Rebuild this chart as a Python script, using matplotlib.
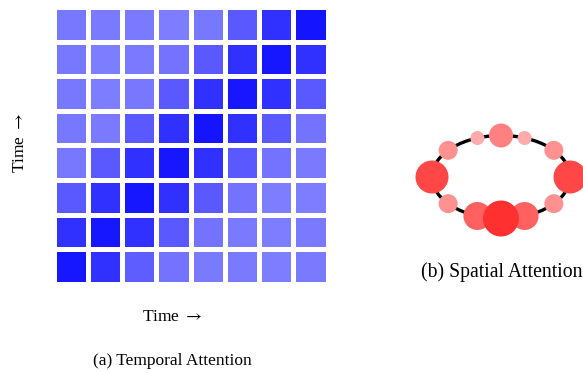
import matplotlib
matplotlib.use('Agg')
import numpy as np
import matplotlib.pyplot as plt
from matplotlib.colors import LinearSegmentedColormap
from matplotlib.patches import Ellipse, Circle

plt.rcParams['font.family'] = ['Liberation Serif', 'DejaVu Serif']
plt.rcParams['mathtext.fontset'] = 'stix'

# temporal attention weights, row 0 = top row
temporal = [
    [0.53, 0.52, 0.52, 0.51, 0.53, 0.65, 0.81, 0.92],
    [0.53, 0.51, 0.52, 0.55, 0.65, 0.81, 0.91, 0.81],
    [0.53, 0.51, 0.53, 0.65, 0.81, 0.91, 0.81, 0.65],
    [0.53, 0.52, 0.65, 0.81, 0.92, 0.81, 0.65, 0.55],
    [0.53, 0.65, 0.81, 0.91, 0.81, 0.65, 0.55, 0.52],
    [0.65, 0.81, 0.91, 0.81, 0.65, 0.55, 0.51, 0.51],
    [0.81, 0.91, 0.81, 0.65, 0.55, 0.52, 0.51, 0.52],
    [0.91, 0.81, 0.63, 0.55, 0.52, 0.52, 0.51, 0.52],
]

# spatial attention: node angle on the ring (deg), weight, radius (px)
node_angle = [0, 40, 70, 90, 110, 140, 180, 220, 250, 270, 290, 320]
node_weight = [0.72, 0.43, 0.33, 0.50, 0.33, 0.43, 0.72, 0.43, 0.62, 0.81, 0.62, 0.43]
node_size = [16.5, 9.5, 7, 12, 7, 9.5, 16.5, 9.5, 14, 18, 14, 9.5]

W, H = 583, 373
fig = plt.figure(figsize=(W / 100, H / 100), dpi=100)

# (a) temporal attention heatmap
ax1 = fig.add_axes([53.5 / W, (H - 283.5) / H, 274 / W, 276 / H])
blue = LinearSegmentedColormap.from_list('wb', ['white', 'blue'])
data = np.array(temporal)[::-1]
ax1.pcolormesh(data, cmap=blue, vmin=0, vmax=1, edgecolors='white', linewidth=2.3)
ax1.set_xlim(0, 8)
ax1.set_ylim(0, 8)
ax1.axis('off')

fig.text(20 / W, 1 - 143 / H, r'Time $\rightarrow$', rotation=90, ha='center', va='center', fontsize=12.5)
fig.text(172.5 / W, 1 - 317 / H, r'Time $\rightarrow$', ha='center', va='center', fontsize=12.5)
fig.text(172.5 / W, 1 - 361 / H, '(a) Temporal Attention', ha='center', va='center', fontsize=12.5)

# (b) spatial attention ring
ax2 = fig.add_axes([400 / W, (H - 300) / H, 183 / W, 200 / H])
ax2.set_xlim(400, 583)
ax2.set_ylim(300, 100)
ax2.axis('off')
cx, cy, a, b = 501, 177, 69, 41.5
ax2.add_patch(Ellipse((cx, cy), 2 * a, 2 * b, fill=False, edgecolor='black', linewidth=2.4))
for ang, w, r in zip(node_angle, node_weight, node_size):
    t = np.deg2rad(ang)
    x = cx + a * np.cos(t)
    y = cy - b * np.sin(t)
    col = (1, 1 - w, 1 - w)
    ax2.add_patch(Circle((x, y), r, facecolor=col, edgecolor='none', zorder=3 + r / 100))

fig.text(501.5 / W, 1 - 272 / H, '(b) Spatial Attention', ha='center', va='center', fontsize=14.2)

fig.savefig('out.png', dpi=100)
